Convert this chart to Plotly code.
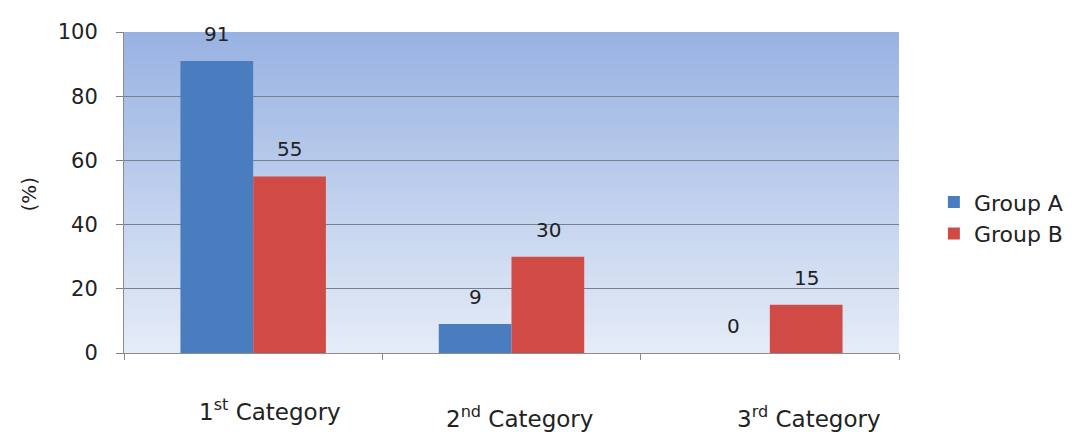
import plotly.graph_objects as go

categories = ["1st", "2nd", "3rd"]
category_labels = ["1<sup>st</sup> Category", "2<sup>nd</sup> Category", "3<sup>rd</sup> Category"]
group_a = [91, 9, 0]
group_b = [55, 30, 15]

FONT = "DejaVu Sans"
TEXT = "#222222"
BLUE = "#4a7dc0"
RED = "#d04b46"
GRID = "#76808f"

fig = go.Figure()
fig.add_trace(go.Bar(x=categories, y=group_a, name="Group A", marker=dict(color=BLUE, line=dict(width=0))))
fig.add_trace(go.Bar(x=categories, y=group_b, name="Group B", marker=dict(color=RED, line=dict(width=0))))

# vertical gradient behind the plot area (darker blue at top)
top = (152, 178, 226)
bottom = (229, 236, 247)
n = 80
for i in range(n):
    t = i / (n - 1)
    c = tuple(round(bottom[k] + (top[k] - bottom[k]) * t) for k in range(3))
    fig.add_shape(type="rect", xref="x domain", yref="y domain",
                  x0=0, x1=1, y0=i / n, y1=min(1, (i + 2) / n),
                  fillcolor="rgb(%d,%d,%d)" % c, line=dict(width=0), layer="below")

# value labels above bars
half_bar = 36.5
for vals, dx in ((group_a, -half_bar), (group_b, half_bar)):
    for cat, v in zip(categories, vals):
        fig.add_annotation(x=cat, y=v, xshift=dx, yshift=27, text=str(v), showarrow=False,
                           yanchor="middle", font=dict(family=FONT, size=20, color=TEXT))

# category labels (slightly staggered like the original)
label_dx = [17, 8, 39]
label_dy = [-57, -64, -64]
for cat, lab, dx, dy in zip(categories, category_labels, label_dx, label_dy):
    fig.add_annotation(x=cat, y=0, yref="paper", xshift=dx, yshift=dy, text=lab, showarrow=False,
                       xanchor="center", yanchor="middle", font=dict(family=FONT, size=23, color=TEXT))

fig.add_annotation(text="(%)", xref="paper", yref="paper", x=0, y=0.5, xshift=-96, yshift=-2,
                   xanchor="center", yanchor="middle",
                   textangle=-90, showarrow=False, font=dict(family=FONT, size=20, color=TEXT))

# the page body adds an 8px margin, so the figure is 8px smaller than the window
fig.update_layout(
    width=1073, height=424,
    margin=dict(l=116, r=179, t=17, b=79),
    paper_bgcolor="white", plot_bgcolor="rgba(0,0,0,0)",
    barmode="group", bargap=0.437, bargroupgap=0,
    font=dict(family=FONT, size=19, color=TEXT),
    legend=dict(x=1.045, y=0.42, xanchor="left", yanchor="middle",
                font=dict(family=FONT, size=22, color=TEXT), tracegroupgap=0),
    xaxis=dict(showticklabels=False, ticks="outside", tickson="boundaries", ticklen=6,
               tickcolor="#8c8c8c", showline=True, linecolor="#8c8c8c", linewidth=1,
               showgrid=False),
    yaxis=dict(range=[0, 100], dtick=20, ticks="outside", ticklen=7, tickcolor=GRID,
               ticklabelstandoff=14, showline=True, linecolor="#8c8c8c", linewidth=1,
               gridcolor=GRID, gridwidth=1, zeroline=False,
               tickfont=dict(family=FONT, size=21, color=TEXT)),
)

fig.write_html("out.html")
